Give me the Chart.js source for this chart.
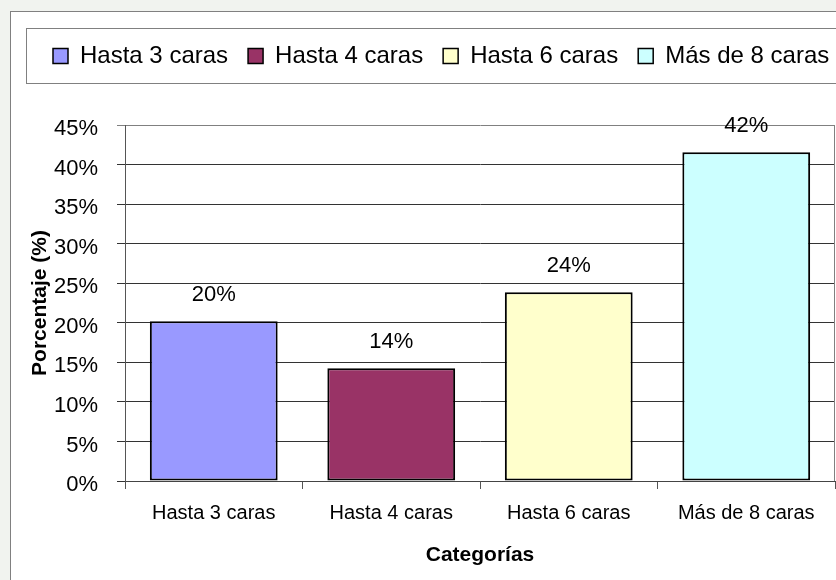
<!DOCTYPE html>
<html>
<head>
<meta charset="utf-8">
<script src="https://cdn.jsdelivr.net/npm/chart.js@4.4.0/dist/chart.umd.min.js"></script>
<style>
  html, body { margin: 0; padding: 0; background: #f1f3ef; overflow: hidden; }
  #frame { position: absolute; left: 10px; top: 11px; width: 900px; height: 700px; border: 1px solid #808080; background: #fff; }
  #wrap { position: absolute; left: 0; top: 0; width: 836px; height: 580px; }
</style>
</head>
<body>
<div id="frame"></div>
<div id="wrap"><canvas id="chart1"></canvas></div>
<script>
const categories = ["Hasta 3 caras", "Hasta 4 caras", "Hasta 6 caras", "Más de 8 caras"];
const percentages = [20.2, 14.25, 23.85, 41.55];
const barColors = ["#9999FF", "#993366", "#FFFFCC", "#CCFFFF"];
const yMax = 45;
const yStep = 5;

const FONT = "'Liberation Sans', Arial, sans-serif";

// legend: one row (it runs off the right edge like the original), fixed height
const legendGap = {
  id: 'legendGap',
  afterInit(chart) {
    const lg = chart.legend;
    const fit = lg.fit;
    lg.fit = function () {
      this.maxWidth = 1200;
      fit.call(this);
      this.height = 101;
    };
  },
  afterLayout(chart) {
    chart.legend.right = chart.legend.left + 1200;
    chart.legend.width = 1200;
  }
};

// legend box + plot frame
const frames = {
  id: 'frames',
  afterDraw(chart) {
    const ctx = chart.ctx;
    const a = chart.chartArea;
    ctx.save();
    ctx.strokeStyle = '#808080';
    ctx.lineWidth = 1;
    ctx.strokeRect(26.5, 28.5, 900, 55);
    ctx.beginPath();
    ctx.moveTo(Math.round(a.right) - 0.5, a.top);
    ctx.lineTo(Math.round(a.right) - 0.5, a.bottom);
    ctx.stroke();
    ctx.restore();
  }
};

// value labels on top of bars
const barLabels = {
  id: 'barLabels',
  afterDatasetsDraw(chart) {
    const ctx = chart.ctx;
    const meta = chart.getDatasetMeta(0);
    ctx.save();
    ctx.font = '22px ' + FONT;
    ctx.fillStyle = '#000';
    ctx.textAlign = 'center';
    ctx.textBaseline = 'middle';
    meta.data.forEach((bar, i) => {
      ctx.fillText(Math.round(percentages[i]) + '%', bar.x, bar.y - 26);
    });
    ctx.restore();
  }
};

const data = {
  labels: categories,
  datasets: [{
    label: 'Porcentaje',
    data: percentages,
    backgroundColor: barColors,
    borderColor: '#000',
    borderWidth: 2,
    borderSkipped: false,
    barPercentage: 0.72,
    categoryPercentage: 1.0,
  }]
};

const config = {
  type: 'bar',
  data: data,
  plugins: [legendGap, frames, barLabels],
  options: {
    responsive: true,
    maintainAspectRatio: false,
    animation: false,
    layout: {
      padding: { left: 33, right: 1, top: 24, bottom: 0 }
    },
    plugins: {
      tooltip: { enabled: false },
      legend: {
        position: 'top',
        align: 'start',
        labels: {
          boxWidth: 15,
          boxHeight: 15,
          padding: 20,
          color: '#000',
          font: { family: FONT, size: 24 },
          generateLabels: () => categories.map((c, i) => ({
            text: c,
            fillStyle: barColors[i],
            strokeStyle: '#000',
            lineWidth: 1.5,
            index: i,
          })),
        },
        onClick: () => {},
      },
    },
    scales: {
      x: {
        afterFit: (s) => { s.height = 99; },
        grid: {
          offset: true,
          drawOnChartArea: false,
          drawTicks: true,
          tickLength: 8,
          color: '#555',
        },
        border: { display: true, color: '#444' },
        ticks: {
          color: '#000',
          padding: 12,
          maxRotation: 0,
          autoSkip: false,
          font: { family: FONT, size: 20 },
        },
        title: {
          display: true,
          text: 'Categorías',
          color: '#000',
          font: { family: FONT, size: 21, weight: 'bold' },
          padding: { top: 0, bottom: 12 },
        },
      },
      y: {
        min: 0,
        max: yMax,
        afterFit: (s) => { s.width = 92; },
        grid: {
          drawTicks: true,
          tickLength: 8,
          color: (c) => (c.tick && c.tick.value === yMax ? '#808080' : '#333'),
        },
        border: { display: true, color: '#555' },
        ticks: {
          stepSize: yStep,
          color: '#000',
          padding: 19,
          labelOffset: 4,
          font: { family: FONT, size: 22 },
          callback: (v) => v + '%',
        },
        title: {
          display: true,
          text: 'Porcentaje (%)',
          color: '#000',
          font: { family: FONT, size: 21, weight: 'bold' },
          padding: { top: -5, bottom: 0 },
        },
      },
    },
  },
};

const myChart1 = new Chart(document.getElementById('chart1'), config);
</script>
</body>
</html>
